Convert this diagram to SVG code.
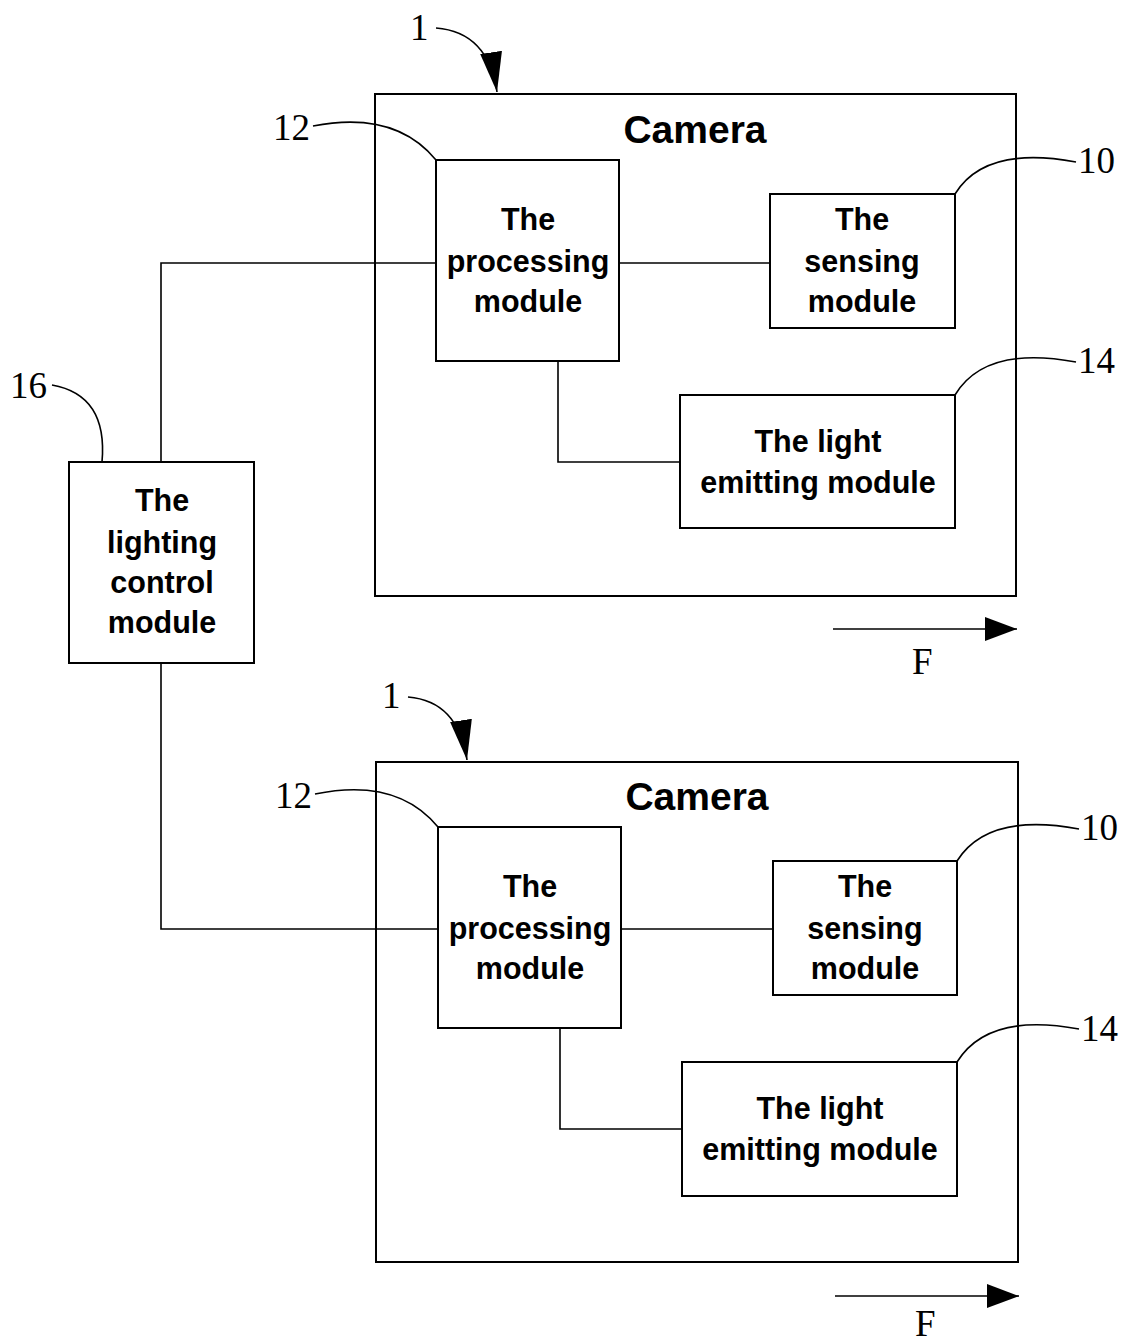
<svg xmlns="http://www.w3.org/2000/svg" width="1128" height="1344" viewBox="0 0 1128 1344">
<style>
.box{fill:none;stroke:#000;stroke-width:2}
.ln{fill:none;stroke:#000;stroke-width:1.6}
.t{font-family:"Liberation Sans",Arial,sans-serif;font-weight:bold;font-size:30.5px;text-anchor:middle;fill:#000}
.cam{font-family:"Liberation Sans",Arial,sans-serif;font-weight:bold;font-size:39px;text-anchor:middle;fill:#000}
.n{font-family:"Liberation Serif","Times New Roman",serif;font-size:37px;fill:#000}
</style>
<defs>
<marker id="ahF" viewBox="0 0 32 24" refX="32" refY="12" markerWidth="32" markerHeight="24" markerUnits="userSpaceOnUse" orient="auto">
<path d="M0,0 L32,12 L0,24 z" fill="#000"/>
</marker>
<marker id="ah1" viewBox="0 0 40 22" refX="40" refY="11" markerWidth="40" markerHeight="22" markerUnits="userSpaceOnUse" orient="auto">
<path d="M0,0 L40,11 L0,22 z" fill="#000"/>
</marker>
</defs>

<g id="camera1">
<rect class="box" x="375" y="94" width="641" height="502"/>
<text class="cam" x="695" y="143">Camera</text>
</g>
<g id="processing1">
<rect class="box" x="436" y="160" width="183" height="201"/>
<text class="t" x="528" y="230">The</text>
<text class="t" x="528" y="272">processing</text>
<text class="t" x="528" y="312">module</text>
</g>
<g id="sensing1">
<rect class="box" x="770" y="194" width="185" height="134"/>
<text class="t" x="862" y="230">The</text>
<text class="t" x="862" y="272">sensing</text>
<text class="t" x="862" y="312">module</text>
</g>
<g id="light1">
<rect class="box" x="680" y="395" width="275" height="133"/>
<text class="t" x="818" y="452">The light</text>
<text class="t" x="818" y="493">emitting module</text>
</g>

<g id="lighting">
<rect class="box" x="69" y="462" width="185" height="201"/>
<text class="t" x="162" y="511">The</text>
<text class="t" x="162" y="553">lighting</text>
<text class="t" x="162" y="593">control</text>
<text class="t" x="162" y="633">module</text>
</g>

<g id="camera2">
<rect class="box" x="376" y="762" width="642" height="500"/>
<text class="cam" x="697" y="810">Camera</text>
</g>
<g id="processing2">
<rect class="box" x="438" y="827" width="183" height="201"/>
<text class="t" x="530" y="897">The</text>
<text class="t" x="530" y="939">processing</text>
<text class="t" x="530" y="979">module</text>
</g>
<g id="sensing2">
<rect class="box" x="773" y="861" width="184" height="134"/>
<text class="t" x="865" y="897">The</text>
<text class="t" x="865" y="939">sensing</text>
<text class="t" x="865" y="979">module</text>
</g>
<g id="light2">
<rect class="box" x="682" y="1062" width="275" height="134"/>
<text class="t" x="820" y="1119">The light</text>
<text class="t" x="820" y="1160">emitting module</text>
</g>

<g id="connectors">
<polyline class="ln" points="436,263 161,263 161,462"/>
<line class="ln" x1="619" y1="263" x2="770" y2="263"/>
<polyline class="ln" points="558,361 558,462 680,462"/>
<polyline class="ln" points="161,663 161,929 438,929"/>
<line class="ln" x1="621" y1="929" x2="773" y2="929"/>
<polyline class="ln" points="560,1028 560,1129 682,1129"/>
<line class="ln" x1="833" y1="629" x2="1017" y2="629" stroke-width="2.5" marker-end="url(#ahF)"/>
<line class="ln" x1="835" y1="1296" x2="1019" y2="1296" stroke-width="2.5" marker-end="url(#ahF)"/>
</g>

<g id="labels">
<text class="n" x="410" y="40">1</text>
<path class="ln" d="M436,28 Q488,32 497,92" marker-end="url(#ah1)"/>
<text class="n" x="273" y="140">12</text>
<path class="ln" d="M313,126 Q395,110 436,160"/>
<text class="n" x="1078" y="173">10</text>
<path class="ln" d="M1076,162 Q985,145 955,194"/>
<text class="n" x="1078" y="373">14</text>
<path class="ln" d="M1076,362 Q985,345 955,395"/>
<text class="n" x="10" y="398">16</text>
<path class="ln" d="M52,385 Q108,395 102,462"/>
<text class="n" x="912" y="674">F</text>

<text class="n" x="382" y="708">1</text>
<path class="ln" d="M408,697 Q458,701 467,760" marker-end="url(#ah1)"/>
<text class="n" x="275" y="808">12</text>
<path class="ln" d="M315,794 Q397,777 438,827"/>
<text class="n" x="1081" y="840">10</text>
<path class="ln" d="M1079,829 Q988,812 957,861"/>
<text class="n" x="1081" y="1041">14</text>
<path class="ln" d="M1079,1029 Q988,1012 957,1062"/>
<text class="n" x="915" y="1336">F</text>
</g>
</svg>
